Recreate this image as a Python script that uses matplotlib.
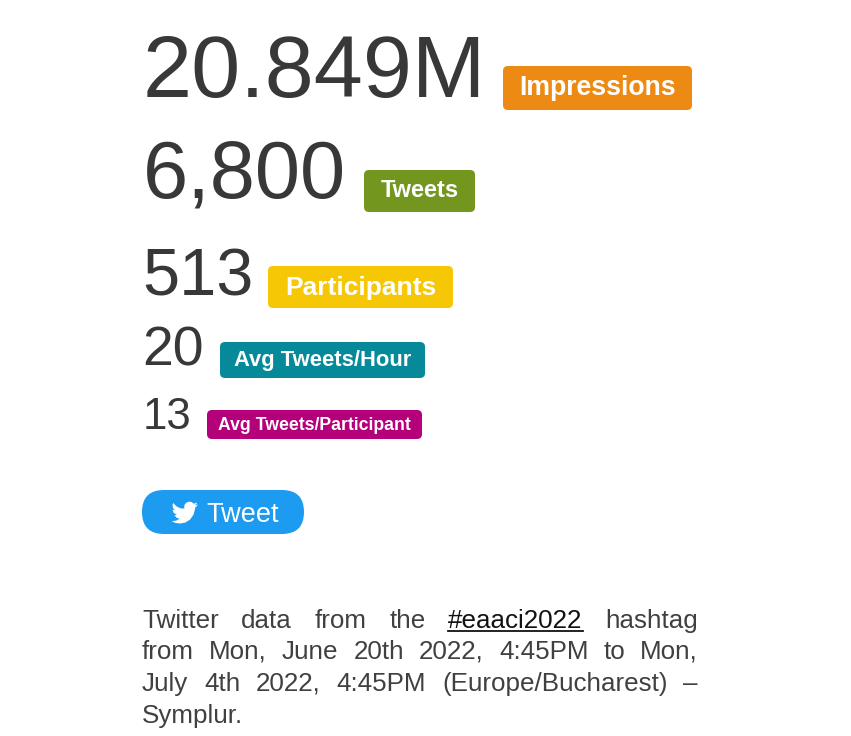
import matplotlib
matplotlib.use("Agg")
import matplotlib.pyplot as plt
from matplotlib.patches import FancyBboxPatch, Polygon

plt.rcParams["font.family"] = ["Liberation Sans", "DejaVu Sans"]

values = ["20.849M", "6,800", "513", "20", "13"]
labels = ["Impressions", "Tweets", "Participants", "Avg Tweets/Hour", "Avg Tweets/Participant"]
colors = ["#ec8a13", "#73961f", "#f6c705", "#068a9a", "#b4007a"]

value_sizes = [63.5, 58.5, 48, 40, 31.5]
value_left = [143, 142.5, 142.5, 142.5, 143]
value_base = [97, 197, 295, 366, 429]
label_sizes = [19.2, 17, 19, 15.8, 12.7]
label_base = [95, 197, 295, 366, 430]
# left, right, top, bottom of each badge, in pixels
boxes = [(503, 692, 66, 110), (364, 475, 170, 212), (268, 453, 266, 308),
         (220, 425, 342, 378), (207, 422, 410, 439)]

caption = [["Twitter", "data", "from", "the", "#eaaci2022", "hashtag"],
           ["from", "Mon,", "June", "20th", "2022,", "4:45PM", "to", "Mon,"],
           ["July", "4th", "2022,", "4:45PM", "(Europe/Bucharest)", "\u2013"],
           ["Symplur."]]
caption_base = [628, 659, 691, 723]
hashtag = "#eaaci2022"

bird = [(24, 4.56), (21.13, 5.35), (22.4, 4.2), (23.29, 2.62), (21.8, 3.3), (20.16, 3.81),
        (18.4, 2.4), (16.3, 1.93), (14, 2.5), (12.2, 4.1), (11.4, 6.5), (11.78, 8.29),
        (8.4, 8.0), (5.6, 6.9), (3.4, 5.2), (1.64, 3.16), (1.1, 4.3), (0.97, 5.64),
        (1.5, 8), (3.16, 9.73), (2, 9.6), (0.93, 9.12), (0.93, 9.18), (1.9, 12), (4.88, 14.0),
        (3.8, 14.2), (2.67, 14.09), (4.4, 16.4), (7.27, 17.5), (4.4, 19.1), (1.17, 19.6),
        (0, 19.54), (3.5, 21.2), (7.56, 21.75), (12.5, 20.9), (16.8, 18.2), (19.9, 13.8),
        (21.55, 7.77), (21.54, 7.14), (22.9, 6), (24, 4.59)]

fig = plt.figure(figsize=(8.51, 7.36), dpi=100, facecolor="white")
ax = fig.add_axes([0, 0, 1, 1])
ax.set_xlim(0, 851)
ax.set_ylim(736, 0)
ax.axis("off")


def badge(left, right, top, bottom, color, radius):
    ax.add_patch(FancyBboxPatch((left, top), right - left, bottom - top,
                                boxstyle=f"round,pad=0,rounding_size={radius}",
                                fc=color, ec="none"))


for i in range(len(values)):
    ax.text(value_left[i], value_base[i], values[i], fontsize=value_sizes[i], color="#383838", va="baseline")
    l, r, t, b = boxes[i]
    badge(l, r, t, b, colors[i], 5)
    ax.text((l + r) / 2, label_base[i], labels[i], fontsize=label_sizes[i], color="white",
            fontweight="bold", ha="center", va="baseline")

# tweet button
badge(142, 304, 490, 534, "#1d9bf0", 22)
ax.text(206.5, 522, "Tweet", fontsize=19.5, color="white", va="baseline")
ax.add_patch(Polygon([(171.5 + x * 26.5 / 24, 499.5 + y * 26.5 / 24) for x, y in bird], fc="white", ec="none"))

# caption is justified by hand, word by word
renderer = fig.canvas.get_renderer()
for n, words in enumerate(caption):
    items = [ax.text(0, caption_base[n], w, fontsize=18.7, va="baseline",
                     color="#111111" if w == hashtag else "#404040") for w in words]
    widths = [t.get_window_extent(renderer).width for t in items]
    if n < len(caption) - 1:
        gap = (698 - 142 - sum(widths)) / (len(words) - 1)
    else:
        gap = 0
    x = 142
    for t, w in zip(items, widths):
        t.set_x(x)
        if t.get_text() == hashtag:
            ax.plot([x, x + w], [caption_base[n] + 3] * 2, color="#111111", lw=1.3)
        x += w + gap

fig.savefig("out.png", dpi=100)
